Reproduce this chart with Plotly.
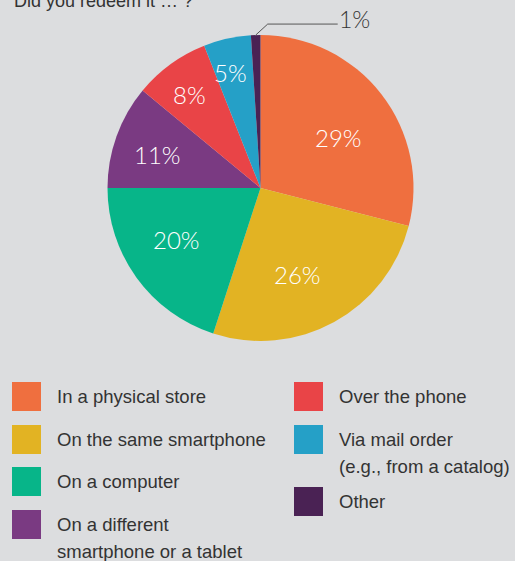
import math
import plotly.graph_objects as go

# Survey answers: where the offer was redeemed
categories = [
    "In a physical store",
    "On the same smartphone",
    "On a computer",
    "On a different<br>smartphone or a tablet",
    "Over the phone",
    "Via mail order<br>(e.g., from a catalog)",
    "Other",
]
shares = [29, 26, 20, 11, 8, 5, 1]
colors = ["#EF6F3F", "#E2B323", "#07B589", "#7A3A82", "#E94447", "#25A0C7", "#4A2254"]

W, H = 515, 561
BG = "#DCDDDF"
TEXT = "#333333"
FONT = "Liberation Sans"
LIGHT = "Lato"

# pie geometry in pixels
CX, CY, R = 260.5, 188.0, 153.0
# placement of each inside label: distance from the centre (share of radius)
# and a small turn (degrees) away from the slice's mid-angle
label_depth = [0.607, 0.619, 0.648, 0.71, 0.771, 0.782, 0.0]
label_turn = [4.5, 5.5, 4.4, -2.1, -1.3, -1.7, 0.0]


def px(x):
    return x / W


def py(y):
    return 1 - y / H


fig = go.Figure(
    go.Pie(
        labels=categories,
        values=shares,
        sort=False,
        direction="clockwise",
        rotation=0,
        marker=dict(colors=colors, line=dict(width=0)),
        textinfo="none",
        domain=dict(x=[px(CX - R), px(CX + R)], y=[py(CY + R), py(CY - R)]),
        showlegend=False,
        hoverinfo="label+percent",
    )
)

shapes = []
annotations = []
total = sum(shares)

# percentage labels near each slice's mid-angle
cum = 0
for i, v in enumerate(shares):
    mid = (cum + v / 2) / total * 2 * math.pi + math.radians(label_turn[i])
    cum += v
    if v < 5:
        continue
    d = R * label_depth[i]
    annotations.append(dict(x=px(CX + d * math.sin(mid)), y=py(CY - d * math.cos(mid)),
                            xref="paper", yref="paper", text=f"{v}%", showarrow=False,
                            xanchor="center", yanchor="middle",
                            font=dict(family=LIGHT, size=24, color="white", weight=300)))

# leader line for the smallest slice
small = len(shares) - 1
mid = (sum(shares[:small]) + shares[small] / 2) / total * 2 * math.pi
sx, sy = CX + R * math.sin(mid), CY - R * math.cos(mid)
ex, ey = sx + 12, sy - 11
shapes.append(dict(type="path", xref="paper", yref="paper",
                   path=f"M {px(sx)},{py(sy)} L {px(ex)},{py(ey)} L {px(ex + 70)},{py(ey)}",
                   line=dict(color="#555555", width=1)))
annotations.append(dict(x=px(ex + 69), y=py(ey - 5), xref="paper", yref="paper",
                        text=f"{shares[small]}%", showarrow=False, xanchor="left", yanchor="middle",
                        font=dict(family=LIGHT, size=23, color=TEXT, weight=300)))

# title (partly above the top edge)
annotations.append(dict(x=px(12), y=py(13), xref="paper", yref="paper",
                        text="Did you redeem it … ?”", showarrow=False, xanchor="left", yanchor="bottom",
                        font=dict(family=FONT, size=18, color=TEXT)))

# two-column legend drawn by hand
left_rows = [382, 425, 467, 510]
right_rows = [382, 425, 487]
slots = [(12, y) for y in left_rows] + [(294, y) for y in right_rows]
SW = 29
LINE = 27
for name, col, (x0, y0) in zip(categories, colors, slots):
    shapes.append(dict(type="rect", xref="paper", yref="paper",
                       x0=px(x0), x1=px(x0 + SW), y0=py(y0 + SW), y1=py(y0),
                       fillcolor=col, line=dict(width=0)))
    for i, line in enumerate(name.split("<br>")):
        annotations.append(dict(x=px(x0 + 43), y=py(y0 + SW / 2 + i * LINE), xref="paper", yref="paper",
                                text=line, showarrow=False, xanchor="left", yanchor="middle",
                                font=dict(family=FONT, size=18.5, color=TEXT)))

fig.update_layout(
    width=W, height=H,
    margin=dict(l=0, r=0, t=0, b=0),
    paper_bgcolor=BG, plot_bgcolor=BG,
    shapes=shapes, annotations=annotations,
)

fig.write_html("out.html")
